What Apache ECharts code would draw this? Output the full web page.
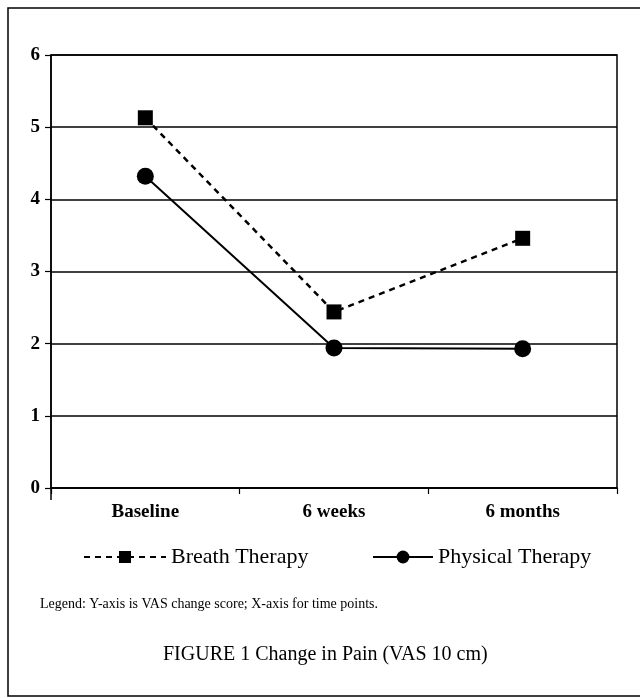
<!DOCTYPE html>
<html>
<head>
<meta charset="utf-8">
<script src="https://cdn.jsdelivr.net/npm/echarts@6/dist/echarts.min.js"></script>
<style>
  html, body { margin: 0; padding: 0; background: #fff; }
  #chart { width: 640px; height: 698px; }
</style>
</head>
<body>
<div id="chart"></div>
<script>
const categories = ['Baseline', '6 weeks', '6 months']
const breathTherapy = [5.13, 2.44, 3.46]
const physicalTherapy = [4.32, 1.94, 1.93]
const yTicks = [0, 1, 2, 3, 4, 5, 6]

const font = '"Liberation Serif", "DejaVu Serif", serif'

const chart = echarts.init(document.getElementById('chart'))

const legendText = { fontFamily: font, fontSize: 22, color: '#000' }

const options = {
  backgroundColor: '#fff',
  animation: false,
  textStyle: { fontFamily: font, color: '#000' },
  grid: {
    left: 51,
    right: 23,
    top: 55,
    bottom: 210,
    show: true,
    borderColor: '#000',
    borderWidth: 1.5
  },
  legend: [
    {
      left: 78,
      top: 541,
      itemWidth: 82,
      itemHeight: 15,
      textStyle: legendText,
      data: ['Breath Therapy']
    },
    {
      left: 367,
      top: 541,
      itemWidth: 60,
      itemHeight: 16,
      textStyle: legendText,
      data: ['Physical Therapy']
    }
  ],
  xAxis: {
    type: 'category',
    data: categories,
    boundaryGap: true,
    axisLine: { lineStyle: { color: '#000', width: 1.5 } },
    axisTick: { show: true, length: 6, lineStyle: { color: '#000', width: 1.2 } },
    axisLabel: {
      fontFamily: font,
      fontSize: 19,
      fontWeight: 'bold',
      color: '#000',
      margin: 15
    }
  },
  yAxis: {
    type: 'value',
    min: yTicks[0],
    max: yTicks[yTicks.length - 1],
    interval: 1,
    axisLine: { show: true, lineStyle: { color: '#000', width: 1.5 } },
    axisTick: { show: true, length: 6, lineStyle: { color: '#000', width: 1.2 } },
    splitLine: { lineStyle: { color: '#000', width: 1.5 } },
    axisLabel: {
      fontFamily: font,
      fontSize: 19,
      fontWeight: 'bold',
      color: '#000',
      margin: 11
    }
  },
  series: [
    {
      name: 'Breath Therapy',
      type: 'line',
      data: breathTherapy,
      symbol: 'rect',
      symbolSize: 15,
      itemStyle: { color: '#000' },
      lineStyle: { color: '#000', width: 2.5, type: [6, 5] }
    },
    {
      name: 'Physical Therapy',
      type: 'line',
      data: physicalTherapy,
      symbol: 'circle',
      symbolSize: 17,
      itemStyle: { color: '#000' },
      lineStyle: { color: '#000', width: 2 }
    }
  ],
  graphic: [
    {
      type: 'rect',
      shape: { x: 8, y: 8, width: 640, height: 688 },
      style: { fill: 'none', stroke: '#000', lineWidth: 1.5 },
      silent: true
    },
    {
      type: 'line',
      shape: { x1: 51, y1: 488, x2: 51, y2: 500 },
      style: { stroke: '#000', lineWidth: 1.5 },
      silent: true
    },
    {
      type: 'text',
      left: 40,
      top: 597,
      style: {
        text: 'Legend: Y-axis is VAS change score; X-axis for time points.',
        font: '14px ' + font,
        fill: '#000'
      }
    },
    {
      type: 'text',
      left: 163,
      top: 645,
      style: {
        text: 'FIGURE 1 Change in Pain (VAS 10 cm)',
        font: '20px ' + font,
        fill: '#000'
      }
    }
  ]
}

chart.setOption(options)
</script>
</body>
</html>
